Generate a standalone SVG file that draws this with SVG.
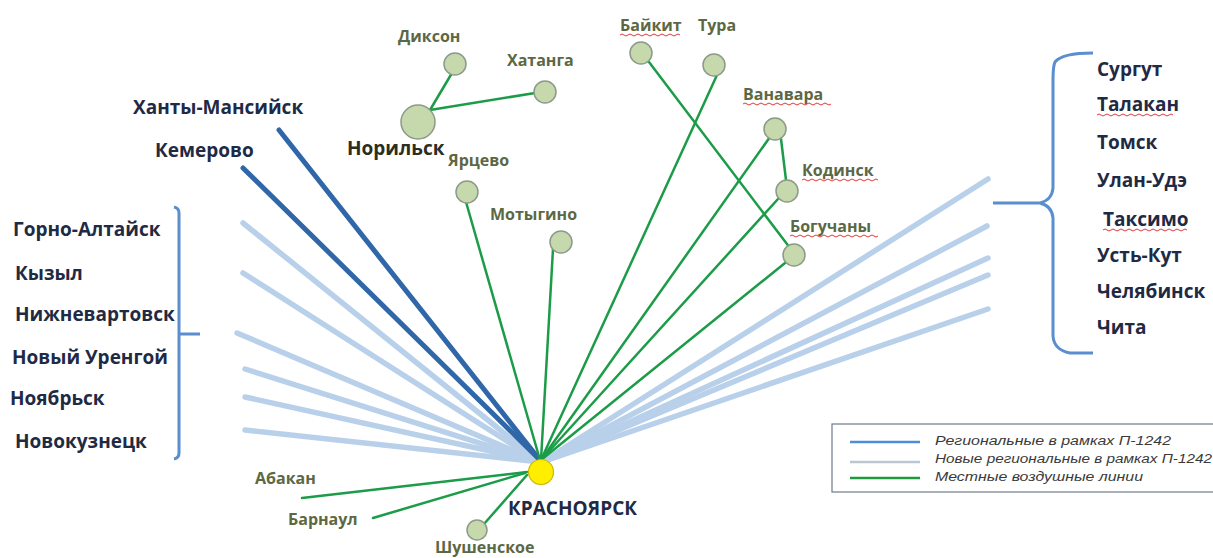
<svg xmlns="http://www.w3.org/2000/svg" width="1213" height="558" viewBox="0 0 1213 558">
<defs>
<style>
.reg{stroke:#2f67a8;stroke-width:5;stroke-linecap:round;fill:none}
.new{stroke:#b9d0ea;stroke-width:5.5;stroke-linecap:round;fill:none}
.loc{stroke:#1c9c48;stroke-width:2.5;stroke-linecap:round;fill:none}
.br{stroke:#5a8ecf;stroke-width:3;fill:none}
.node{fill:#c6d9ad;stroke:#8d9a8a;stroke-width:1.5}
.city{font-family:"Open Sans","Liberation Sans",sans-serif;font-weight:700;font-size:19px;fill:#1f2a44}
.loc-t{font-family:"Open Sans","Liberation Sans",sans-serif;font-weight:700;font-size:16px;fill:#5c6844}
.wavy{stroke:#e03a3a;stroke-width:1;fill:none}
.lg{font-family:"Liberation Sans",Arial,sans-serif;font-style:italic;font-size:12.5px;fill:#3a3a3a}
</style>
</defs>
<rect width="1213" height="558" fill="#ffffff"/>
<g id="connectors">
<line class="new" x1="243" y1="223" x2="540" y2="462"/>
<line class="new" x1="243" y1="273" x2="540" y2="462"/>
<line class="new" x1="237" y1="333" x2="540" y2="462"/>
<line class="new" x1="245" y1="369" x2="540" y2="462"/>
<line class="new" x1="245" y1="397" x2="540" y2="462"/>
<line class="new" x1="245" y1="430" x2="540" y2="462"/>
<line class="new" x1="988" y1="179" x2="542" y2="462"/>
<line class="new" x1="987" y1="226" x2="542" y2="462"/>
<line class="new" x1="988" y1="258" x2="542" y2="462"/>
<line class="new" x1="988" y1="275" x2="542" y2="462"/>
<line class="new" x1="988" y1="309" x2="542" y2="462"/>
<line class="reg" x1="279" y1="130" x2="539" y2="459"/>
<line class="reg" x1="243" y1="168" x2="539" y2="459"/>
<line class="loc" x1="430" y1="110" x2="452" y2="73"/>
<line class="loc" x1="430" y1="110" x2="535" y2="93"/>
<line class="loc" x1="466" y1="202" x2="540" y2="460"/>
<line class="loc" x1="553" y1="249" x2="541" y2="460"/>
<line class="loc" x1="649" y1="62" x2="790" y2="248"/>
<line class="loc" x1="717" y1="75" x2="541" y2="460"/>
<line class="loc" x1="770" y1="137" x2="541" y2="460"/>
<line class="loc" x1="781" y1="139" x2="786" y2="180"/>
<line class="loc" x1="778" y1="199" x2="541" y2="460"/>
<line class="loc" x1="785" y1="263" x2="541" y2="460"/>
<line class="loc" x1="302" y1="498" x2="527" y2="472"/>
<line class="loc" x1="373" y1="518" x2="525" y2="473"/>
<line class="loc" x1="484" y1="524" x2="527" y2="475"/>
</g>
<g id="bracket-left">
<path class="br" d="M174,207 Q179,208 179,213 L179,453 Q179,458 174,459 M179,334 L200,334"/>
</g>
<g id="brace-right">
<path class="br" d="M1093,53 Q1062,53 1055,62 Q1053,66 1053,80 L1053,188 Q1052,200 1040,203 L993,203 M1040,203 Q1052,206 1053,218 L1053,336 Q1054,350 1070,353 L1093,353"/>
</g>
<g id="node-krasnoyarsk">
<circle cx="541" cy="472" r="12.5" fill="#ffee00" stroke="#c9b800" stroke-width="1.2"/>
<text class="city" x="508" y="515">КРАСНОЯРСК</text>
</g>
<g id="node-norilsk">
<circle class="node" cx="418" cy="122" r="17"/>
<text class="city" x="347" y="155" style="fill:#2b2e22">Норильск</text>
</g>
<g id="node-dikson"><circle class="node" cx="455" cy="64" r="11"/><text class="loc-t" x="398" y="42">Диксон</text></g>
<g id="node-khatanga"><circle class="node" cx="545" cy="92" r="11"/><text class="loc-t" x="507" y="66">Хатанга</text></g>
<g id="node-yartsevo"><circle class="node" cx="467" cy="192" r="11"/><text class="loc-t" x="448" y="166">Ярцево</text></g>
<g id="node-motygino"><circle class="node" cx="561" cy="242" r="11"/><text class="loc-t" x="490" y="220">Мотыгино</text></g>
<g id="node-baikit"><circle class="node" cx="641" cy="53" r="11"/><text class="loc-t" x="620" y="31">Байкит</text><path class="wavy" d="M620,35 q2,-2 4,0 t4,0 t4,0 t4,0 t4,0 t4,0 t4,0 t4,0 t4,0 t4,0 t4,0 t4,0 t4,0 t4,0 t4,0"/></g>
<g id="node-tura"><circle class="node" cx="714" cy="65" r="11"/><text class="loc-t" x="698" y="31">Тура</text></g>
<g id="node-vanavara"><circle class="node" cx="775" cy="129" r="11"/><text class="loc-t" x="743" y="100">Ванавара</text><path class="wavy" d="M743,104 q2,-2 4,0 t4,0 t4,0 t4,0 t4,0 t4,0 t4,0 t4,0 t4,0 t4,0 t4,0 t4,0 t4,0 t4,0 t4,0 t4,0 t4,0 t4,0 t4,0 t4,0 t4,0 t4,0"/></g>
<g id="node-kodinsk"><circle class="node" cx="787" cy="191" r="11"/><text class="loc-t" x="802" y="176">Кодинск</text><path class="wavy" d="M802,180 q2,-2 4,0 t4,0 t4,0 t4,0 t4,0 t4,0 t4,0 t4,0 t4,0 t4,0 t4,0 t4,0 t4,0 t4,0 t4,0 t4,0 t4,0 t4,0 t4,0"/></g>
<g id="node-boguchany"><circle class="node" cx="794" cy="255" r="11"/><text class="loc-t" x="790" y="232">Богучаны</text><path class="wavy" d="M790,236 q2,-2 4,0 t4,0 t4,0 t4,0 t4,0 t4,0 t4,0 t4,0 t4,0 t4,0 t4,0 t4,0 t4,0 t4,0 t4,0 t4,0 t4,0 t4,0 t4,0 t4,0 t4,0 t4,0"/></g>
<g id="node-shushenskoe"><circle class="node" cx="477" cy="530" r="10"/><text class="loc-t" x="435" y="553">Шушенское</text></g>
<g id="node-abakan"><text class="loc-t" x="255" y="484">Абакан</text></g>
<g id="node-barnaul"><text class="loc-t" x="288" y="525">Барнаул</text></g>
<g id="node-khanty"><text class="city" x="133" y="114">Ханты-Мансийск</text></g>
<g id="node-kemerovo"><text class="city" x="155" y="157">Кемерово</text></g>
<g id="group-left">
<text class="city" x="13" y="236">Горно-Алтайск</text>
<text class="city" x="15" y="280">Кызыл</text>
<text class="city" x="15" y="321">Нижневартовск</text>
<text class="city" x="12" y="364">Новый Уренгой</text>
<text class="city" x="10" y="405">Ноябрьск</text>
<text class="city" x="15" y="448">Новокузнецк</text>
</g>
<g id="group-right">
<text class="city" x="1097" y="76">Сургут</text>
<text class="city" x="1097" y="111">Талакан</text>
<path class="wavy" d="M1097,115 q2,-2 4,0 t4,0 t4,0 t4,0 t4,0 t4,0 t4,0 t4,0 t4,0 t4,0 t4,0 t4,0 t4,0 t4,0 t4,0 t4,0 t4,0 t4,0 t4,0"/>
<text class="city" x="1097" y="149">Томск</text>
<text class="city" x="1097" y="187">Улан-Удэ</text>
<text class="city" x="1103" y="226">Таксимо</text>
<path class="wavy" d="M1103,230 q2,-2 4,0 t4,0 t4,0 t4,0 t4,0 t4,0 t4,0 t4,0 t4,0 t4,0 t4,0 t4,0 t4,0 t4,0 t4,0 t4,0 t4,0 t4,0 t4,0 t4,0 t4,0"/>
<text class="city" x="1097" y="262">Усть-Кут</text>
<text class="city" x="1097" y="298">Челябинск</text>
<text class="city" x="1097" y="334">Чита</text>
</g>
<g id="legend">
<rect x="832" y="424" width="390" height="68" fill="#ffffff" stroke="#6b7a8c" stroke-width="1.2"/>
<line x1="850" y1="442" x2="920" y2="442" stroke="#4a8fd8" stroke-width="2.5"/>
<line x1="850" y1="462" x2="920" y2="462" stroke="#bcc6d2" stroke-width="2.5"/>
<line x1="850" y1="478" x2="920" y2="478" stroke="#1e9a3c" stroke-width="2.5"/>
<text class="lg" x="935" y="445" textLength="236" lengthAdjust="spacingAndGlyphs">Региональные  в рамках П-1242</text>
<text class="lg" x="935" y="463" textLength="277" lengthAdjust="spacingAndGlyphs">Новые  региональные  в  рамках  П-1242</text>
<text class="lg" x="935" y="481" textLength="208" lengthAdjust="spacingAndGlyphs">Местные  воздушные линии</text>
</g>
</svg>
